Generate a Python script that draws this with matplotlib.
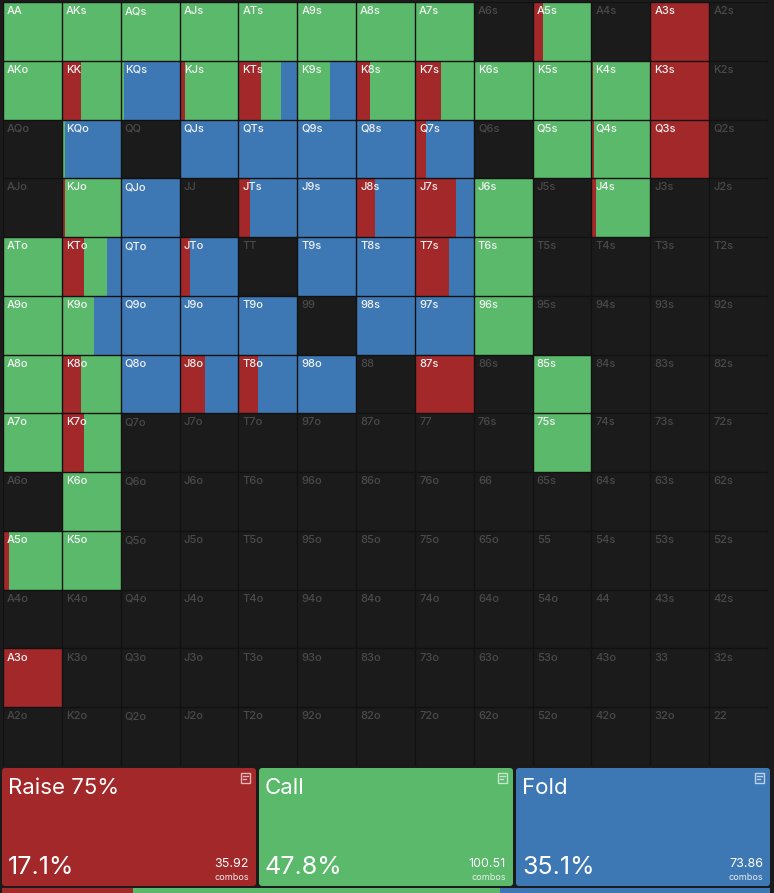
import numpy as np
import matplotlib.pyplot as plt
from matplotlib.patches import FancyBboxPatch, Rectangle

plt.rcParams['font.family'] = ['Inter', 'DejaVu Sans']

# ---------------- data ----------------
ranks = list('AKQJT98765432')
actions = ['Raise 75%', 'Call', 'Fold']
colors = ['#a3282a', '#5ab96a', '#3d78b5']
totals_pct = [17.1, 47.8, 35.1]
totals_combos = [35.92, 100.51, 73.86]

# percent of each hand per action, rows A..2, cols A..2
raise_pct = [
    [0, 0, 0, 0, 0, 0, 0, 1, 0, 17, 0, 100, 0],
    [0, 32, 0, 10, 39, 0, 24, 45, 0, 0, 3, 100, 0],
    [0, 0, 0, 0, 0, 0, 0, 19, 0, 0, 5, 100, 0],
    [0, 6, 0, 0, 19, 0, 32, 70, 0, 0, 8, 0, 0],
    [0, 38, 2, 18, 0, 0, 2, 58, 0, 0, 0, 0, 0],
    [0, 0, 0, 0, 0, 0, 0, 0, 0, 0, 0, 0, 0],
    [0, 33, 0, 43, 34, 0, 0, 100, 0, 0, 0, 0, 0],
    [1, 37, 0, 0, 0, 0, 0, 0, 0, 0, 0, 0, 0],
    [0, 0, 0, 0, 0, 0, 0, 0, 0, 0, 0, 0, 0],
    [10, 0, 0, 0, 0, 0, 0, 0, 0, 0, 0, 0, 0],
    [0, 0, 0, 0, 0, 0, 0, 0, 0, 0, 0, 0, 0],
    [100, 0, 0, 0, 0, 0, 0, 0, 0, 0, 0, 0, 0],
    [0, 0, 0, 0, 0, 0, 0, 0, 0, 0, 0, 0, 0],
]
call_pct = [
    [100, 100, 100, 100, 100, 100, 100, 99, 0, 83, 0, 0, 0],
    [100, 68, 6, 90, 33, 56, 76, 55, 100, 100, 97, 0, 0],
    [0, 6, 0, 0, 0, 0, 0, 0, 0, 100, 95, 0, 0],
    [0, 94, 0, 0, 0, 0, 0, 0, 100, 0, 92, 0, 0],
    [100, 38, 0, 0, 0, 0, 0, 0, 100, 0, 0, 0, 0],
    [100, 55, 0, 0, 0, 0, 0, 0, 100, 0, 0, 0, 0],
    [100, 67, 0, 0, 0, 0, 0, 0, 0, 100, 0, 0, 0],
    [99, 63, 0, 0, 0, 0, 0, 0, 0, 100, 0, 0, 0],
    [0, 100, 0, 0, 0, 0, 0, 0, 0, 0, 0, 0, 0],
    [90, 100, 0, 0, 0, 0, 0, 0, 0, 0, 0, 0, 0],
    [0, 0, 0, 0, 0, 0, 0, 0, 0, 0, 0, 0, 0],
    [0, 0, 0, 0, 0, 0, 0, 0, 0, 0, 0, 0, 0],
    [0, 0, 0, 0, 0, 0, 0, 0, 0, 0, 0, 0, 0],
]
fold_pct = [
    [0, 0, 0, 0, 0, 0, 0, 0, 0, 0, 0, 0, 0],
    [0, 0, 94, 0, 28, 44, 0, 0, 0, 0, 0, 0, 0],
    [0, 94, 0, 100, 100, 100, 100, 81, 0, 0, 0, 0, 0],
    [0, 0, 100, 0, 81, 100, 68, 30, 0, 0, 0, 0, 0],
    [0, 24, 98, 82, 0, 100, 98, 42, 0, 0, 0, 0, 0],
    [0, 45, 100, 100, 100, 0, 100, 100, 0, 0, 0, 0, 0],
    [0, 0, 100, 57, 66, 100, 0, 0, 0, 0, 0, 0, 0],
    [0, 0, 0, 0, 0, 0, 0, 0, 0, 0, 0, 0, 0],
    [0, 0, 0, 0, 0, 0, 0, 0, 0, 0, 0, 0, 0],
    [0, 0, 0, 0, 0, 0, 0, 0, 0, 0, 0, 0, 0],
    [0, 0, 0, 0, 0, 0, 0, 0, 0, 0, 0, 0, 0],
    [0, 0, 0, 0, 0, 0, 0, 0, 0, 0, 0, 0, 0],
    [0, 0, 0, 0, 0, 0, 0, 0, 0, 0, 0, 0, 0],
]

W, H = 774, 893
fig = plt.figure(figsize=(W / 100, H / 100), dpi=100)
fig.patch.set_facecolor('#1b1b1b')

# ---------------- hand grid ----------------
ax = fig.add_axes([3 / W, 1 - 766 / H, 765 / W, 764 / H])
ax.set_facecolor('#1e1e1e')
ax.set_xlim(0, 13)
ax.set_ylim(13, 0)
ax.axis('off')

rows, cols = np.indices((13, 13))
rows, cols = rows.ravel(), cols.ravel()
left = cols.astype(float)
for vals, c in zip([raise_pct, call_pct, fold_pct], colors):
    w = np.array(vals, dtype=float).ravel() / 100
    ax.barh(rows + 0.5, w, left=left, height=1, color=c, linewidth=0)
    left = left + w

for k in range(14):
    ax.axhline(k, color='#111111', lw=1)
    ax.axvline(k, color='#111111', lw=1)

total = np.array(raise_pct) + np.array(call_pct) + np.array(fold_pct)
for i in range(13):
    for j in range(13):
        if i == j:
            name = ranks[i] + ranks[j]
        elif j > i:
            name = ranks[i] + ranks[j] + 's'
        else:
            name = ranks[j] + ranks[i] + 'o'
        col = '#f2f2f2' if total[i, j] > 0 else '#4a4a4a'
        ax.text(j + 0.07, i + 0.07, name, color=col, fontsize=8,
                fontweight='medium', ha='left', va='top')

# ---------------- action panels ----------------
ov = fig.add_axes([0, 0, 1, 1])
ov.set_xlim(0, W)
ov.set_ylim(H, 0)
ov.axis('off')
ov.patch.set_alpha(0)

px = [2, 259, 516]
pw = 254
for x0, name, c, pct, cmb in zip(px, actions, colors, totals_pct, totals_combos):
    ov.add_patch(FancyBboxPatch((x0 + 3, 768 + 3), pw - 6, 118 - 6,
                                boxstyle='round,pad=3', fc=c, ec='none'))
    ov.text(x0 + 6, 788, name, color='white', fontsize=16, ha='left', va='center')
    ov.text(x0 + 6, 867, f'{pct}%', color='white', fontsize=18, ha='left', va='center')
    ov.text(x0 + pw - 7, 864, f'{cmb:.2f}', color='white', fontsize=9, ha='right', va='center')
    ov.text(x0 + pw - 7, 878, 'combos', color='#eeeeee', fontsize=6.5, ha='right', va='center')
    # small sheet icon
    ix, iy = x0 + pw - 15, 773
    ov.add_patch(Rectangle((ix, iy), 9, 10, fc='none', ec='#ffffffaa', lw=1))
    ov.plot([ix + 2, ix + 7], [iy + 3, iy + 3], color='#ffffffaa', lw=1)
    ov.plot([ix + 2, ix + 5], [iy + 6, iy + 6], color='#ffffffaa', lw=1)

# ---------------- summary bar ----------------
bx = fig.add_axes([2 / W, 0, 768 / W, 5 / H])
bx.set_xlim(0, 100)
bx.set_ylim(0, 1)
bx.axis('off')
bx.barh(0.5, totals_pct, left=np.cumsum([0] + totals_pct[:-1]), height=1,
        color=colors, linewidth=0)

fig.savefig('out.png', dpi=100, facecolor=fig.get_facecolor())
